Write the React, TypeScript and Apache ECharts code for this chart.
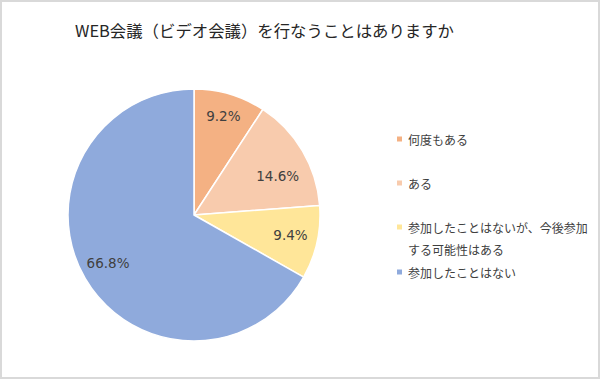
import React, { useEffect, useRef } from "react";
import * as echarts from "echarts";

const title = "WEB会議（ビデオ会議）を行なうことはありますか";
const categories = [
  "何度もある",
  "ある",
  "参加したことはないが、今後参加する可能性はある",
  "参加したことはない",
];
const values = [9.2, 14.6, 9.4, 66.8];

const colors = ["#F4B183", "#F8CBAD", "#FFE699", "#8FAADC"];
const legendTops = [128, 172, 194, 261];
const labelOffsets = [[0, 0], [-5, 13], [-4, -2], [3, -4]];
const FONT = '"Noto Sans CJK JP", "Noto Sans", sans-serif';

export default function App() {
  const ref = useRef<HTMLDivElement>(null);
  useEffect(() => {
    if (!ref.current) return;
    const chart = echarts.init(ref.current, null, { renderer: "svg" });
    const data = categories.map((c, i) => ({
      name: c,
      value: values[i],
      itemStyle: { color: colors[i] },
    }));
    const wrapName = (n: string) =>
      n.length > 20 ? "\n" + n.slice(0, 15) + "\n" + n.slice(15) : n;
    chart.setOption({
      animation: false,
      backgroundColor: "#ffffff",
      title: {
        text: title,
        left: 75,
        top: 22,
        padding: 0,
        textStyle: {
          fontFamily: FONT,
          fontSize: 16.4,
          fontWeight: "normal",
          color: "#262626",
        },
      },
      legend: categories.map((c, i) => ({
        data: [c],
        left: 395,
        top: legendTops[i],
        orient: "vertical",
        padding: 0,
        itemWidth: 7,
        itemHeight: 7,
        icon: "rect",
        selectedMode: false,
        formatter: wrapName,
        textStyle: {
          fontFamily: FONT,
          fontSize: 12,
          color: "#404040",
          lineHeight: 22,
        },
      })),
      graphic: [
        {
          type: "rect",
          shape: { x: 1, y: 1, width: 598, height: 377 },
          style: { fill: "none", stroke: "#d9d9d9", lineWidth: 2 },
          silent: true,
        },
      ],
      series: [
        {
          type: "pie",
          center: [194, 215],
          radius: [0, 126],
          startAngle: 90,
          clockwise: true,
          silent: true,
          data,
          itemStyle: { borderColor: "#ffffff", borderWidth: 1.5 },
          label: { show: false },
          labelLine: { show: false },
        },
        {
          type: "pie",
          center: [194, 215],
          radius: [0, 200],
          startAngle: 90,
          clockwise: true,
          silent: true,
          data: categories.map((c, i) => ({
            name: c,
            value: values[i],
            label: { offset: labelOffsets[i] },
          })),
          itemStyle: { color: "rgba(0,0,0,0)", borderWidth: 0 },
          label: {
            show: true,
            position: "inside",
            formatter: (p: any) => p.value.toFixed(1) + "%",
            fontFamily: '"DejaVu Sans", sans-serif',
            fontSize: 13.5,
            color: "#404040",
          },
          labelLine: { show: false },
        },
      ],
    });
    return () => chart.dispose();
  }, []);
  return (
    <div
      ref={ref}
      style={{ position: "absolute", left: 0, top: 0, width: 600, height: 379 }}
    />
  );
}
